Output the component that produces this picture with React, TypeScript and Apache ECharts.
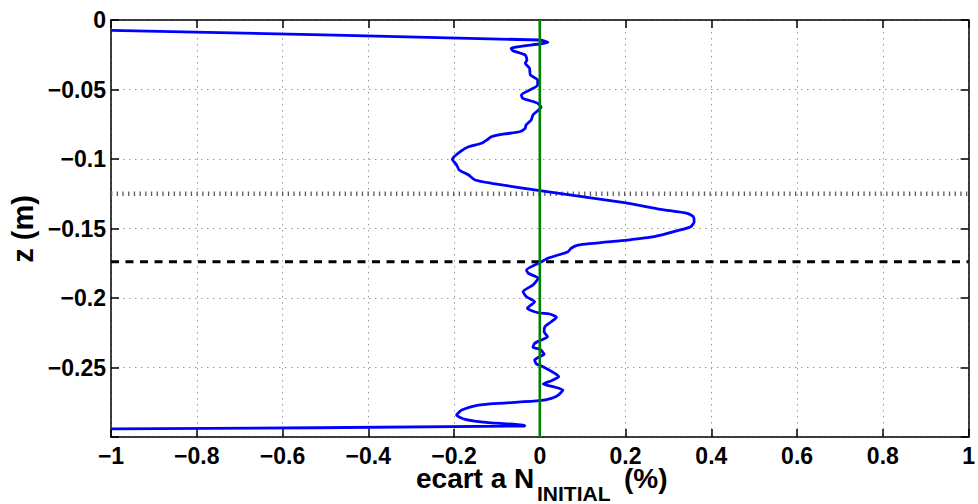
import { useEffect, useRef } from "react";
import * as echarts from "echarts";

// Profile: deviation from N_INITIAL (%) vs depth z (m)
const profileX = [
  -1, 0.0, 0.019, -0.067, -0.063, -0.034, -0.03, -0.034, -0.024, -0.022,
  -0.005, -0.005, -0.043, -0.04, -0.005, 0.003, -0.005, -0.016, -0.02, -0.032,
  -0.034, -0.047, -0.082, -0.113, -0.121, -0.136, -0.166, -0.182, -0.204, -0.194,
  -0.188, -0.166, -0.151, -0.112, 0.0, 0.197, 0.282, 0.344, 0.358, 0.36,
  0.352, 0.321, 0.267, 0.205, 0.089, 0.073, 0.066, 0.019, 0.004, -0.031,
  -0.027, -0.004, -0.016, -0.039, -0.031, -0.012, -0.029, -0.004, 0.023, 0.039,
  0.027, 0.012, 0.01, 0.018, 0.004, -0.012, -0.016, 0.0, 0.01, 0.0,
  -0.012, -0.008, 0.004, 0.035, 0.044, 0.027, 0.008, 0.031, 0.054, 0.043,
  0.027, 0.0, -0.143, -0.182, -0.194, -0.174, -0.12, -0.039, -0.035, -1,
];
const profileZ = [
  -0.0074, -0.0144, -0.016, -0.0204, -0.0221, -0.0252, -0.0288, -0.0312, -0.0347, -0.0396,
  -0.0432, -0.0468, -0.054, -0.0563, -0.0599, -0.0628, -0.0653, -0.0683, -0.0719, -0.0755,
  -0.0779, -0.0804, -0.082, -0.084, -0.0858, -0.0887, -0.0912, -0.094, -0.1002, -0.1043,
  -0.1079, -0.1115, -0.1151, -0.1175, -0.1228, -0.1314, -0.1362, -0.1391, -0.1415, -0.1451,
  -0.1487, -0.1516, -0.1559, -0.1583, -0.1619, -0.1642, -0.1667, -0.1714, -0.1739, -0.1799,
  -0.1822, -0.1858, -0.1906, -0.1955, -0.1991, -0.2027, -0.2074, -0.2106, -0.2115, -0.2139,
  -0.2171, -0.2206, -0.2242, -0.2279, -0.2302, -0.2326, -0.2355, -0.2369, -0.2405, -0.2422,
  -0.2446, -0.2475, -0.2489, -0.2542, -0.2566, -0.2595, -0.2619, -0.2638, -0.2662, -0.2698,
  -0.2722, -0.2739, -0.277, -0.2806, -0.2842, -0.2873, -0.2897, -0.2914, -0.2921, -0.2942,
];
const dottedLevel = -0.125;
const dashedLevel = -0.174;
const zeroLineX = 0;
const xRange = [-1, 1];
const zRange = [-0.3, 0];
const xStep = 0.2;
const zStep = 0.05;

const FONT = '"Liberation Sans", Arial, Helvetica, sans-serif';

const fmt = (v: number, d: number) => {
  const s = String(Number(v.toFixed(d)));
  return s.replace("-", "\u2212");
};

export default function App() {
  const ref = useRef<HTMLDivElement>(null);
  useEffect(() => {
    if (!ref.current) return;
    const chart = echarts.init(ref.current, undefined, { renderer: "svg" });
    const axisLine = { show: true, onZero: false, lineStyle: { color: "#000", width: 1.5 } };
    const axisTick = { show: true, inside: true, length: 8, lineStyle: { color: "#000", width: 1.5 } };
    const labelStyle = { fontSize: 23, fontWeight: "bold" as const, color: "#000", fontFamily: FONT };
    const split = { show: true, lineStyle: { color: "#9a9a9a", width: 1, type: [1.5, 4.5] } };
    chart.setOption({
      animation: false,
      backgroundColor: "#fff",
      grid: { left: 111, right: 5, top: 20, bottom: 67, containLabel: false },
      xAxis: [
        {
          type: "value", min: xRange[0], max: xRange[1], interval: xStep, position: "bottom",
          axisLine, axisTick,
          axisLabel: { ...labelStyle, margin: 7, showMinLabel: true, showMaxLabel: true, formatter: (v: number) => fmt(v, 1) },
          splitLine: split,
        },
        {
          type: "value", min: xRange[0], max: xRange[1], interval: xStep, position: "top",
          axisLine, axisTick, axisLabel: { show: false }, splitLine: { show: false },
        },
      ],
      yAxis: [
        {
          type: "value", min: zRange[0], max: zRange[1], interval: zStep, position: "left",
          axisLine, axisTick,
          axisLabel: {
            ...labelStyle, margin: 5, showMinLabel: true, showMaxLabel: true,
            formatter: (v: number) => (v < -0.299 ? "" : fmt(v, 2)),
          },
          splitLine: split,
        },
        {
          type: "value", min: zRange[0], max: zRange[1], interval: zStep, position: "right",
          axisLine, axisTick, axisLabel: { show: false }, splitLine: { show: false },
        },
      ],
      series: [
        {
          type: "line", symbol: "none", silent: true, z: 2,
          data: [[xRange[0], dottedLevel], [xRange[1], dottedLevel]],
          lineStyle: { color: "#5a5a5a", width: 4.5, type: [1.3, 4.4] },
        },
        {
          type: "line", symbol: "none", silent: true, z: 2,
          data: [[xRange[0], dashedLevel], [xRange[1], dashedLevel]],
          lineStyle: { color: "#000", width: 3, type: [8, 6.5] },
        },
        {
          type: "line", symbol: "none", silent: true, z: 3, smooth: 0.2,
          data: profileX.map((x, i) => [x, profileZ[i]]),
          lineStyle: { color: "#0000ff", width: 2.8 },
        },
        {
          type: "line", symbol: "none", silent: true, z: 4,
          data: [[zeroLineX, zRange[1]], [zeroLineX, zRange[0]]],
          lineStyle: { color: "#008000", width: 2.6 },
        },
      ],
      graphic: [
        {
          type: "text", x: 416, y: 478,
          style: { text: "ecart a N", font: `bold 28px ${FONT}`, fill: "#000", align: "left", verticalAlign: "middle" },
        },
        {
          type: "text", x: 537, y: 493,
          style: { text: "INITIAL", font: `bold 21px ${FONT}`, fill: "#000", align: "left", verticalAlign: "middle" },
        },
        {
          type: "text", x: 624, y: 478,
          style: { text: "(%)", font: `bold 28px ${FONT}`, fill: "#000", align: "left", verticalAlign: "middle" },
        },
        {
          type: "text", x: 23, y: 229, rotation: Math.PI / 2,
          style: { text: "z (m)", font: `bold 29px ${FONT}`, fill: "#000", align: "center", verticalAlign: "middle" },
        },
      ],
    });
    return () => chart.dispose();
  }, []);
  return (
    <div
      ref={ref}
      style={{ position: "absolute", left: 0, top: 0, width: 978, height: 504, background: "#fff" }}
    />
  );
}
